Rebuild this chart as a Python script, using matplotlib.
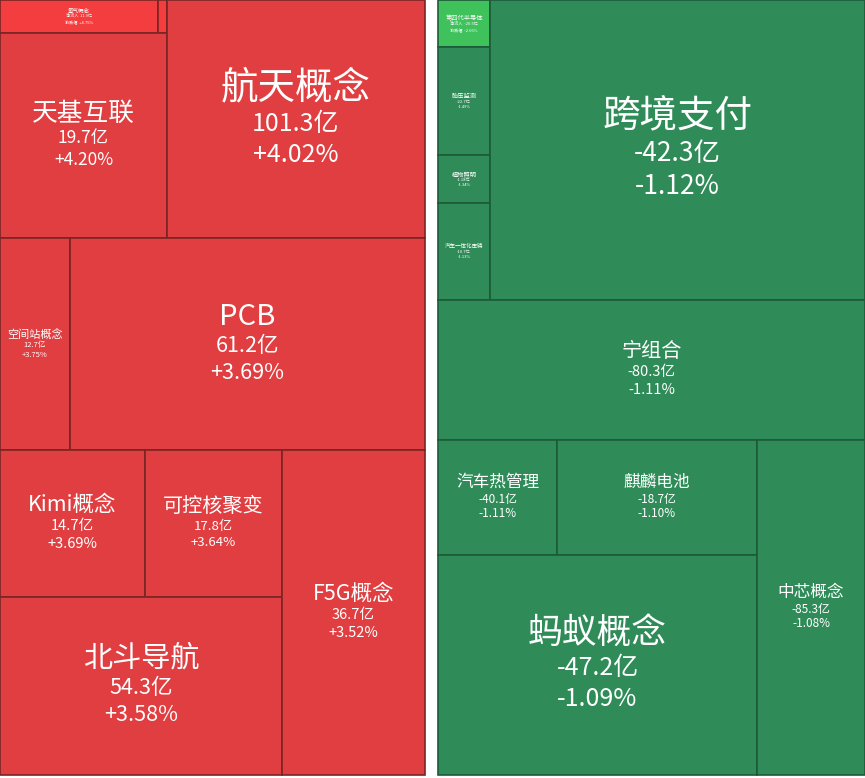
import matplotlib
matplotlib.use("Agg")
import matplotlib.pyplot as plt
from matplotlib.patches import Rectangle

plt.rcParams['font.family'] = ['Noto Sans CJK SC', 'DejaVu Sans']

names = ["氢气概念", "", "天基互联", "航天概念", "空间站概念", "PCB", "Kimi概念", "可控核聚变", "北斗导航", "F5G概念",
         "第四代半导体", "胎压监测", "植物照明", "汽车一体化压铸", "跨境支付", "宁组合", "汽车热管理", "麒麟电池", "蚂蚁概念", "中芯概念"]
flows = ["11.9亿", "", "19.7亿", "101.3亿", "12.7亿", "61.2亿", "14.7亿", "17.8亿", "54.3亿", "36.7亿",
         "-20.5亿", "-22.7亿", "-1.18亿", "-10.7亿", "-42.3亿", "-80.3亿", "-40.1亿", "-18.7亿", "-47.2亿", "-85.3亿"]
changes = ["+4.75%", "", "+4.20%", "+4.02%", "+3.75%", "+3.69%", "+3.69%", "+3.64%", "+3.58%", "+3.52%",
           "-2.66%", "-1.49%", "-1.34%", "-1.13%", "-1.12%", "-1.11%", "-1.11%", "-1.10%", "-1.09%", "-1.08%"]
prefixed = [True, False, False, False, False, False, False, False, False, False,
            True, False, False, False, False, False, False, False, False, False]

# layout (pixel boxes: x0, y0, x1, y1)
boxes = [(0, 0, 158, 33), (158, 0, 167, 33), (0, 33, 167, 238), (167, 0, 425, 238),
         (0, 238, 70, 450), (70, 238, 425, 450), (0, 450, 145, 597), (145, 450, 282, 597),
         (0, 597, 282, 775), (282, 450, 425, 775),
         (438, 0, 490, 47), (438, 47, 490, 155), (438, 155, 490, 203), (438, 203, 490, 300),
         (490, 0, 865, 300), (438, 300, 865, 440), (438, 440, 557, 555), (557, 440, 757, 555),
         (438, 555, 757, 775), (757, 440, 865, 775)]
colors = ["#f43d3e", "#f43d3e"] + ["#e03e40"] * 8 + ["#3fc25c"] + ["#2f8c58"] * 9
edges = ["#7a2525"] * 10 + ["#1e5a38"] * 10
tsize = [4, 0, 18.5, 27, 8, 21, 15.5, 14.5, 21, 15.5, 4.5, 4.5, 4.5, 4, 27, 14.5, 12, 12, 25, 12]
vsize = [3, 0, 12.5, 18, 5.5, 15.5, 10.5, 9.5, 15.5, 10.5, 3, 3, 3, 3, 19, 10.5, 8.5, 8.5, 18, 8.5]

W, H = 865, 778
fig = plt.figure(figsize=(W / 100, H / 100), dpi=100)
ax = fig.add_axes([0, 0, 1, 1])
ax.set_xlim(0, W)
ax.set_ylim(H, 0)
ax.axis('off')

for i, (x0, y0, x1, y1) in enumerate(boxes):
    ax.add_patch(Rectangle((x0, y0), x1 - x0, y1 - y0, facecolor=colors[i],
                           edgecolor=edges[i], linewidth=1.2))
    if not names[i]:
        continue
    cx = (x0 + x1) / 2
    cy = (y0 + y1) / 2
    ts, vs = tsize[i], vsize[i]
    lh = vs * 1.75
    th = ts * 1.5
    total = th + 2 * lh
    top = cy - total / 2
    f = ("净流入  " + flows[i]) if prefixed[i] else flows[i]
    c = ("涨跌幅  " + changes[i]) if prefixed[i] else changes[i]
    ax.text(cx, top + th / 2, names[i], ha='center', va='center', fontsize=ts, color='white')
    ax.text(cx, top + th + lh / 2, f, ha='center', va='center', fontsize=vs, color='white')
    ax.text(cx, top + th + lh * 1.5, c, ha='center', va='center', fontsize=vs, color='white')

fig.savefig("out.png", dpi=100, facecolor='white')
